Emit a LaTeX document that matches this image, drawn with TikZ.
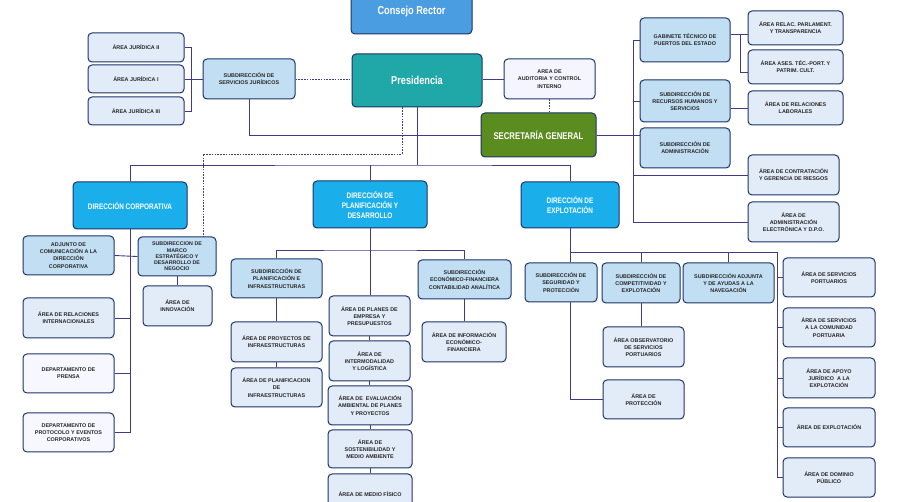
\documentclass[tikz,border=0pt]{standalone}
\usepackage{fontspec}
\setmainfont{Liberation Sans}
\newfontfamily\condfont[FakeStretch=0.8]{Liberation Sans}
\definecolor{boxline}{HTML}{1C3366}
\definecolor{linecol}{HTML}{45388A}
\definecolor{areafill}{HTML}{E2EBF8}
\definecolor{subfill}{HTML}{C2DEF3}
\definecolor{dirfill}{HTML}{1AAFEA}
\definecolor{consejofill}{HTML}{4A9DE0}
\definecolor{presifill}{HTML}{20A7A7}
\definecolor{secfill}{HTML}{5A8C20}
\begin{document}
\begin{tikzpicture}[x=1pt,y=-1pt,
    box/.style={draw=boxline, line width=1pt, rounded corners=4pt, align=center,
      inner sep=1pt, text=black!85, font=\bfseries\fontsize{5.4}{7.2}\selectfont},
    sz/.style 2 args={minimum width=#1, minimum height=#2},
    area/.style={box, fill=areafill},
    subdir/.style={box, fill=subfill},
    direccion/.style={box, fill=dirfill, text=white, font=\condfont\bfseries\fontsize{8}{10}\selectfont},
    cabeza/.style={box, text=white, font=\condfont\bfseries\fontsize{11.5}{13}\selectfont},
    dotline/.style={dash pattern=on 1.6pt off 1.2pt, line width=0.8pt}]
  \useasboundingbox (0,0) rectangle (900,502);
  \clip (0,0) rectangle (900,502);
  \draw
    (411.5,12) node[cabeza, fill=consejofill, sz={121}{44}] (consejo) {Consejo Rector}
    (417,80.5) node[cabeza, fill=presifill, sz={130}{53}] (presi) {Presidencia}
    (549.5,79) node[area, fill=blue!4, sz={91}{40}] (auditoria) {AREA DE\\AUDITORIA Y CONTROL\\INTERNO}
    (538.5,135) node[cabeza, fill=secfill, sz={115}{44}, font=\condfont\bfseries\fontsize{9.7}{11}\selectfont] (secgen) {SECRETARÍA GENERAL}
    (249,79) node[subdir, sz={92}{40}] (ssjj) {SUBDIRECCIÓN DE\\SERVICIOS JURÍDICOS}
    (136,47.5) node[area, sz={96}{29}] (jur2) {ÁREA JURÍDICA II}
    (136,79) node[area, sz={96}{28}] (jur1) {ÁREA JURÍDICA I}
    (136,111) node[area, sz={96}{28}] (jur3) {ÁREA JURÍDICA III}
    (685,40) node[subdir, sz={90}{44}] (gabinete) {GABINETE TÉCNICO DE\\PUERTOS DEL ESTADO}
    (795.5,28) node[area, sz={95}{34}] (parlament) {ÁREA RELAC. PARLAMENT.\\Y TRANSPARENCIA}
    (795.5,67) node[area, sz={95}{34}] (asestec) {ÁREA ASES. TÉC.-PORT. Y\\PATRIM. CULT.}
    (685,101) node[subdir, sz={90}{42}] (rrhh) {SUBDIRECCIÓN DE\\RECURSOS HUMANOS Y\\SERVICIOS}
    (795.5,108) node[area, sz={95}{34}] (laborales) {ÁREA DE RELACIONES\\LABORALES}
    (685,148) node[subdir, sz={90}{40}] (admin) {SUBDIRECCIÓN DE\\ADMINISTRACIÓN}
    (793.5,175) node[area, sz={91}{40}] (contratacion) {ÁREA DE CONTRATACIÓN\\Y GERENCIA DE RIESGOS}
    (793.5,222) node[area, sz={91}{40}] (aelectronica) {ÁREA DE\\ADMINISTRACIÓN\\ELECTRÓNICA Y D.P.O.}
    (130,205.5) node[direccion, sz={114}{47}] (dcorp) {DIRECCIÓN CORPORATIVA}
    (370,204.5) node[direccion, sz={114}{47}] (dplan) {DIRECCIÓN DE\\PLANIFICACIÓN Y\\DESARROLLO}
    (570,205) node[direccion, sz={98}{46}] (dexplot) {DIRECCIÓN DE\\EXPLOTACIÓN}
    (68.5,255.5) node[subdir, sz={91}{39}] (adjunto) {ADJUNTO DE\\COMUNICACIÓN A LA\\DIRECCIÓN\\CORPORATIVA}
    (177,256.5) node[subdir, sz={78}{39}, font=\bfseries\fontsize{5.3}{6.2}\selectfont] (marco) {SUBDIRECCION DE\\MARCO\\ESTRATÉGICO Y\\DESARROLLO DE\\NEGOCIO}
    (177.5,306) node[area, sz={69}{40}] (innovacion) {ÁREA DE\\INNOVACIÓN}
    (68.5,318) node[area, sz={91}{40}] (relint) {ÁREA DE RELACIONES\\INTERNACIONALES}
    (68.5,373.5) node[area, fill=blue!3, sz={91}{39}] (prensa) {DEPARTAMENTO DE\\PRENSA}
    (68.5,432.5) node[area, fill=blue!3, sz={91}{39}] (protocolo) {DEPARTAMENTO DE\\PROTOCOLO Y EVENTOS\\CORPORATIVOS}
    (276.5,278.5) node[subdir, sz={91}{39}] (splanif) {SUBDIRECCIÓN DE\\PLANIFICACIÓN E\\INFRAESTRUCTURAS}
    (276.5,342) node[area, sz={91}{40}] (proyectos) {ÁREA DE PROYECTOS DE\\INFRAESTRUCTURAS}
    (276.5,387.5) node[area, sz={91}{39}] (planinfra) {ÁREA DE PLANIFICACION\\DE\\INFRAESTRUCTURAS}
    (369.5,316) node[area, sz={81}{40}] (planes) {ÁREA DE PLANES DE\\EMPRESA Y\\PRESUPUESTOS}
    (369.5,361) node[area, sz={81}{40}] (intermodal) {ÁREA DE\\INTERMODALIDAD\\Y LOGÍSTICA}
    (370,405.5) node[area, sz={84}{39}] (evaluacion) {ÁREA DE\ \ EVALUACIÓN\\AMBIENTAL DE PLANES\\Y PROYECTOS}
    (370,449) node[area, sz={84}{38}] (sostenib) {ÁREA DE\\SOSTENIBILIDAD Y\\MEDIO AMBIENTE}
    (370,494) node[area, sz={84}{40}] (mediofisico) {ÁREA DE MEDIO FÍSICO}
    (464.5,279.5) node[subdir, sz={93}{39}] (secofin) {SUBDIRECCIÓN\\ECONÓMICO-FINANCIERA\\CONTABILIDAD ANALÍTICA}
    (464,342) node[area, sz={84}{40}] (infofin) {ÁREA DE INFORMACIÓN\\ECONÓMICO-\\FINANCIERA}
    (561,282.5) node[subdir, sz={72}{39}] (seguridad) {SUBDIRECCIÓN DE\\SEGURIDAD Y\\PROTECCIÓN}
    (641,283) node[subdir, sz={78}{40}] (competit) {SUBDIRECCIÓN DE\\COMPETITIVIDAD Y\\EXPLOTACIÓN}
    (643.5,347) node[area, sz={81}{40}] (observ) {ÁREA OBSERVATORIO\\DE SERVICIOS\\PORTUARIOS}
    (643.5,399.5) node[area, sz={81}{39}] (proteccion) {ÁREA DE\\PROTECCIÓN}
    (728.5,283) node[subdir, sz={91}{40}] (adjunta) {SUBDIRECCIÓN ADJUNTA\\Y DE AYUDAS A LA\\NAVEGACIÓN}
    (829,277.5) node[area, sz={92}{39}] (servport) {ÁREA DE SERVICIOS\\PORTUARIOS}
    (829,327.5) node[area, sz={92}{39}] (comunidad) {ÁREA DE SERVICIOS\\A LA COMUNIDAD\\PORTUARIA}
    (829,378) node[area, sz={92}{40}] (apoyo) {ÁREA DE APOYO\\JURÍDICO\ \ A LA\\EXPLOTACIÓN}
    (829,427.5) node[area, sz={92}{39}] (aexplot) {ÁREA DE EXPLOTACIÓN}
    (829,477.5) node[area, sz={92}{39}] (dominio) {ÁREA DE DOMINIO\\PÚBLICO};
  \coordinate (bus) at (416,165);
  \coordinate (dashcorner) at (203,154);
  \coordinate (sgbus) at (633,0);
  \coordinate (pbus) at (370,250);
  \coordinate (ebus) at (570,252);
  \coordinate (ebusend) at (777,252);
  \begin{scope}[draw=linecol, line width=0.9pt]
    \draw (jur2.east) -- ++(7,0) |- (jur3.east);
    \draw (jur1.east) -- (ssjj.west);
    \draw[dotline] (ssjj.east) -- (ssjj.east -| presi.west);
    \draw (auditoria.west -| presi.east) -- (auditoria.west);
    \draw[dotline] (auditoria.south) -- (auditoria.south |- secgen.north);
    \draw (ssjj.south) |- (secgen.west);
    \draw (secgen.east) -- (secgen.east -| admin.west);
    \draw (gabinete.west) -| (sgbus |- aelectronica) -- (aelectronica.west);
    \draw (rrhh.west) -- (rrhh.west -| sgbus);
    \draw (contratacion.west) -- (contratacion.west -| sgbus);
    \draw ([yshift=6]gabinete.east) -- ([yshift=6]gabinete.east -| parlament.west);
    \draw ([yshift=6]gabinete.east) -- ++(10,0) |- ([yshift=-5]asestec.west);
    \draw (laborales.west -| rrhh.east) -- (laborales.west);
    \draw (presi.south |- bus) -- (presi.south);
    \draw (dcorp.north) |- (bus) -| (dexplot.north);
    \draw (dplan.north) -- (dplan.north |- bus);
    \draw[dotline] ([xshift=-15]presi.south) |- (dashcorner) -- ([xshift=26]marco.north);
    \draw (dcorp.south) |- (protocolo.east);
    \draw (adjunto.east) -- (marco.west);
    \draw (relint.east) -- (relint.east -| dcorp.south);
    \draw (prensa.east) -- (prensa.east -| dcorp.south);
    \draw (marco.south) -- (innovacion.north -| marco.south);
    \draw (dplan.south) -- (dplan.south |- planes.north);
    \draw (planes.south) -- (intermodal.north);
    \draw (intermodal.south) -- (intermodal.south |- evaluacion.north);
    \draw (evaluacion.south) -- (sostenib.north);
    \draw (sostenib.south) -- (mediofisico.north);
    \draw (splanif.north) |- (pbus) -| (secofin.north);
    \draw (splanif.south) -- (proyectos.north);
    \draw (proyectos.south) -- (planinfra.north);
    \draw (secofin.south) -- (secofin.south |- infofin.north);
    \draw (dexplot.south) -- (dexplot.south |- seguridad.north);
    \draw (dexplot.south |- seguridad.south) |- (proteccion.west);
    \draw (ebus) -- (ebusend) |- (dominio.west);
    \draw (competit.north) -- (competit.north |- ebus);
    \draw (adjunta.north) -- (adjunta.north |- ebus);
    \draw (competit.south) -- (competit.south |- observ.north);
    \draw (servport.west) -- (servport.west -| ebusend);
    \draw (comunidad.west) -- (comunidad.west -| ebusend);
    \draw (apoyo.west) -- (apoyo.west -| ebusend);
    \draw (aexplot.west) -- (aexplot.west -| ebusend);
  \end{scope}
\end{tikzpicture}
\end{document}
